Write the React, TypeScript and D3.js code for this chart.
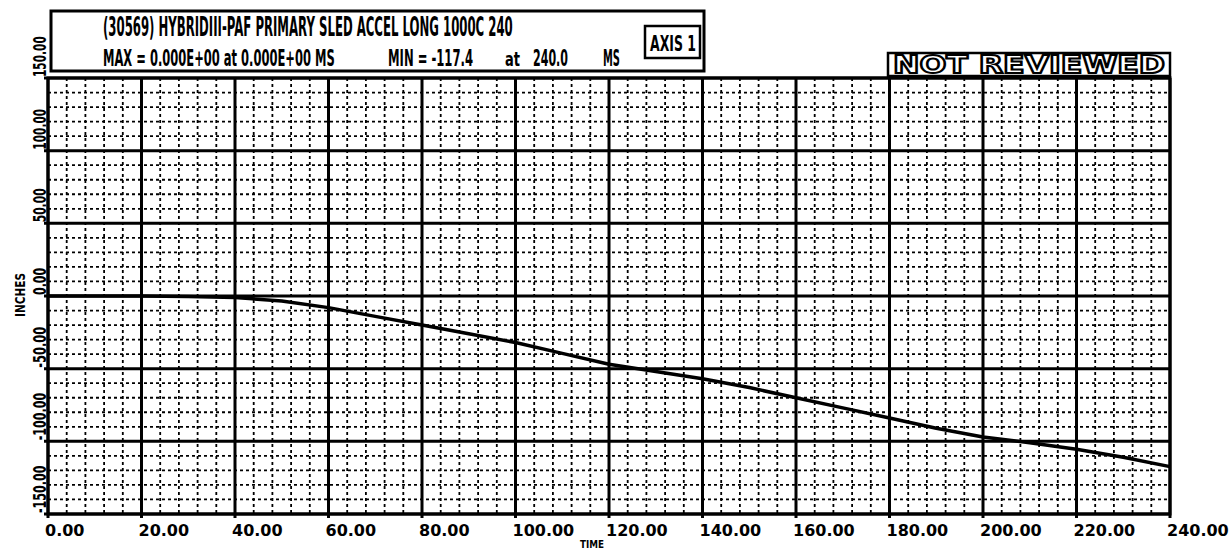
import * as d3 from "d3";
import { useLayoutEffect, useRef, useState } from "react";

// time in ms, value in inches
const timeTicks = [0, 20, 40, 60, 80, 100, 120, 140, 160, 180, 200, 220, 240];
const valueTicks = [150, 100, 50, 0, -50, -100, -150];
const timeValues = [0, 10, 20, 30, 40, 50, 60, 70, 80, 90, 100, 110, 120, 130, 140, 150, 160, 170, 180, 190, 200, 210, 220, 230, 240];
const inchValues = [0, 0, 0, -0.3, -1, -3.5, -8, -14, -20, -26, -32, -39.5, -47, -52, -57, -63, -70, -77, -84, -91, -97, -101, -105.5, -111, -117.4];

const titleLine = "(30569) HYBRIDIII-PAF PRIMARY SLED ACCEL LONG 1000C 240";
const maxText = "MAX = 0.000E+00 at 0.000E+00 MS";
const minText = "MIN = -117.4";

const W = 1229;
const H = 550;
const left = 48;
const right = 1170;
const top = 78;
const bottom = 514;

const font = "'DejaVu Sans', 'Liberation Sans', sans-serif";

// text squeezed horizontally to a given width, like the plotter's narrow font
function Narrow({ x, y, width, size, children }: { x: number; y: number; width: number; size: number; children: string }) {
  const ref = useRef<SVGTextElement>(null);
  const [sx, setSx] = useState(1);
  useLayoutEffect(() => {
    if (ref.current) {
      const w = ref.current.getComputedTextLength();
      if (w > 0) setSx(width / w);
    }
  }, [width, children]);
  return (
    <text ref={ref} transform={`translate(${x},${y}) scale(${sx},1)`} fontSize={size}>
      {children}
    </text>
  );
}

export default function App() {
  const x = d3.scaleLinear().domain([0, 240]).range([left, right]);
  const y = d3.scaleLinear().domain([-150, 150]).range([bottom, top]);

  const minorX = d3.range(0, 241, 4).filter((d) => d % 20 !== 0);
  const minorY = d3.range(-150, 151, 10).filter((d) => d % 50 !== 0);

  const line = d3
    .line<number>()
    .x((d, i) => x(timeValues[i]))
    .y((d) => y(d));

  return (
    <svg
      width={W}
      height={H}
      style={{ position: "absolute", left: 0, top: 0, background: "#fff" }}
      fontFamily={font}
      fontWeight="bold"
    >
      {/* header box */}
      <rect x={51} y={11} width={653} height={60} fill="none" stroke="#000" strokeWidth={3} />
      <Narrow x={103} y={36} width={410} size={27}>{titleLine}</Narrow>
      <Narrow x={103} y={66} width={232} size={23}>{maxText}</Narrow>
      <Narrow x={388} y={66} width={85} size={23}>{minText}</Narrow>
      <Narrow x={505} y={66} width={15} size={20}>at</Narrow>
      <Narrow x={533} y={66} width={35} size={23}>240.0</Narrow>
      <Narrow x={603} y={66} width={17} size={23}>MS</Narrow>
      <rect x={645} y={26} width={55} height={32} fill="none" stroke="#000" strokeWidth={2.5} />
      <Narrow x={650} y={51} width={46} size={22}>AXIS 1</Narrow>

      {/* NOT REVIEWED stamp */}
      <rect x={888} y={53} width={282} height={23} fill="none" stroke="#000" strokeWidth={2.5} />
      <text
        x={893}
        y={73}
        fontSize={24}
        fill="#fff"
        stroke="#000"
        strokeWidth={2}
        textLength={272}
        lengthAdjust="spacingAndGlyphs"
      >
        NOT REVIEWED
      </text>

      {/* minor dotted grid */}
      <g stroke="#000" strokeWidth={1.8} strokeDasharray="3 3">
        {minorX.map((t) => (
          <line key={"mx" + t} x1={x(t)} x2={x(t)} y1={top} y2={bottom} />
        ))}
        {minorY.map((v) => (
          <line key={"my" + v} x1={left} x2={right} y1={y(v)} y2={y(v)} />
        ))}
      </g>

      {/* major grid */}
      <g stroke="#000" strokeWidth={3}>
        {timeTicks.map((t) => (
          <line key={"gx" + t} x1={x(t)} x2={x(t)} y1={top} y2={bottom + 4} />
        ))}
        {valueTicks.map((v) => (
          <line key={"gy" + v} x1={left - 4} x2={right} y1={y(v)} y2={y(v)} />
        ))}
      </g>
      <rect x={left} y={top} width={right - left} height={bottom - top} fill="none" stroke="#000" strokeWidth={3} />

      {/* data */}
      <path d={line(inchValues) ?? ""} fill="none" stroke="#000" strokeWidth={3.5} strokeLinejoin="round" />

      {/* x axis labels */}
      {timeTicks.map((t) => (
        <text key={"tx" + t} x={x(t) - 3} y={536} fontSize={16}>
          {t.toFixed(2)}
        </text>
      ))}
      <text x={580} y={548} fontSize={10} textLength={24} lengthAdjust="spacingAndGlyphs">
        TIME
      </text>

      {/* y axis labels, rotated */}
      {valueTicks.map((v) => {
        const s = v.toFixed(2);
        return (
          <text
            key={"ty" + v}
            transform={`translate(46,${y(v) - 1}) rotate(-90)`}
            fontSize={17}
            textLength={s.length * 6.8}
            lengthAdjust="spacingAndGlyphs"
          >
            {s}
          </text>
        );
      })}
      <text
        transform="translate(25,295) rotate(-90)"
        fontSize={14}
        textAnchor="middle"
        textLength={44}
        lengthAdjust="spacingAndGlyphs"
      >
        INCHES
      </text>
    </svg>
  );
}
